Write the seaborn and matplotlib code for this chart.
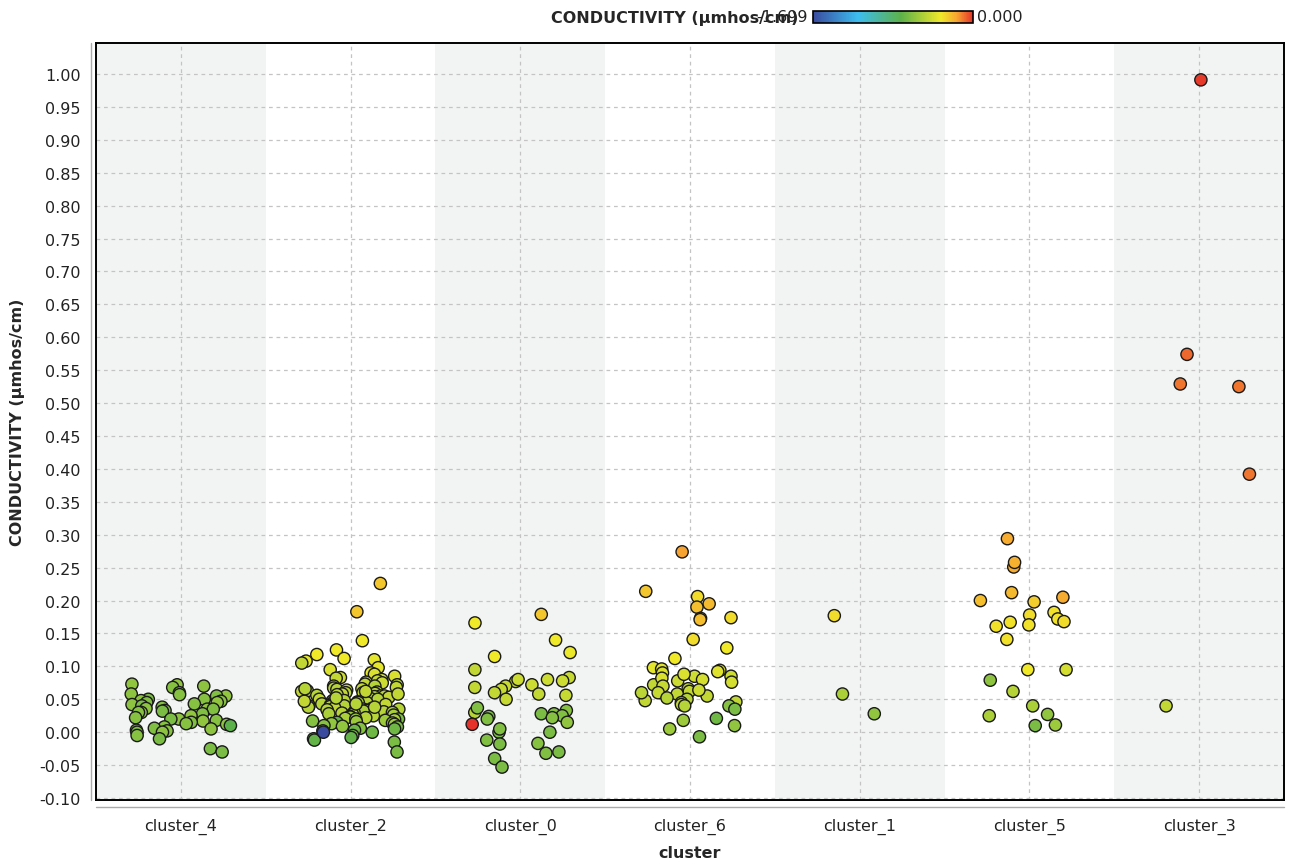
import numpy as np
import pandas as pd
import seaborn as sns
import matplotlib
matplotlib.use('Agg')
from matplotlib import pyplot as plt
from matplotlib.colors import LinearSegmentedColormap, Normalize
from matplotlib.colorbar import ColorbarBase

sns.set_style('white')
plt.rcParams['font.family'] = ['DejaVu Sans']

clusters = ['cluster_4', 'cluster_2', 'cluster_0', 'cluster_6',
            'cluster_1', 'cluster_5', 'cluster_3']

# colour scale of the legend bar
COLOR_LOW = -1.699
COLOR_HIGH = 0.0

# y values per cluster, and the position of each point's colour on the bar (0 = blue, 1 = red)
c4_y = [0.050, 0.073, 0.072, 0.070, 0.068, 0.060, 0.058, 0.057, 0.055, 0.055,
        0.050, 0.048, 0.047, 0.045, 0.045, 0.043, 0.042, 0.040, 0.038, 0.036,
        0.035, 0.035, 0.033, 0.032, 0.030, 0.030, 0.028, 0.025, 0.022, 0.020,
        0.020, 0.018, 0.017, 0.015, 0.013, 0.012, 0.010, 0.008, 0.006, 0.005,
        0.003, 0.002, 0.000, 0.000, -0.005, -0.010, -0.025, -0.030]
c4_c = [0.60, 0.64, 0.64, 0.63, 0.62, 0.62, 0.63, 0.62, 0.64, 0.61,
        0.62, 0.63, 0.62, 0.64, 0.61, 0.62, 0.63, 0.60, 0.62, 0.63,
        0.64, 0.61, 0.62, 0.60, 0.63, 0.62, 0.61, 0.64, 0.62, 0.63,
        0.60, 0.62, 0.64, 0.61, 0.62, 0.63, 0.55, 0.62, 0.61, 0.63,
        0.60, 0.62, 0.61, 0.63, 0.62, 0.60, 0.60, 0.60]

c2_y = [0.226, 0.183, 0.139, 0.125, 0.118, 0.112, 0.110, 0.108, 0.105, 0.098,
        0.095, 0.090, 0.088, 0.085, 0.083, 0.082, 0.080, 0.078, 0.076, 0.075,
        0.073, 0.072, 0.070, 0.070, 0.068, 0.067, 0.066, 0.065, 0.064, 0.063,
        0.062, 0.061, 0.060, 0.060, 0.059, 0.058, 0.057, 0.056, 0.055, 0.055,
        0.054, 0.053, 0.052, 0.051, 0.050, 0.050, 0.049, 0.048, 0.047, 0.046,
        0.045, 0.045, 0.044, 0.043, 0.042, 0.041, 0.040, 0.040, 0.039, 0.038,
        0.037, 0.036, 0.035, 0.035, 0.034, 0.033, 0.032, 0.031, 0.030, 0.030,
        0.029, 0.028, 0.027, 0.026, 0.025, 0.024, 0.023, 0.022, 0.021, 0.020,
        0.020, 0.019, 0.018, 0.017, 0.016, 0.015, 0.014, 0.013, 0.012, 0.010,
        0.009, 0.008, 0.006, 0.005, 0.003, 0.002, 0.000, -0.005, -0.008, -0.010,
        -0.012, -0.015, -0.030, 0.058, 0.052, 0.047, 0.043, 0.038, 0.062, 0.066,
        0.000]
c2_c = [0.85, 0.85, 0.80, 0.80, 0.80, 0.80, 0.78, 0.78, 0.72, 0.78,
        0.76, 0.78, 0.76, 0.76, 0.74, 0.72, 0.74, 0.72, 0.72, 0.74,
        0.72, 0.70, 0.72, 0.70, 0.72, 0.70, 0.72, 0.70, 0.72, 0.70,
        0.72, 0.70, 0.70, 0.72, 0.70, 0.72, 0.70, 0.70, 0.72, 0.70,
        0.70, 0.72, 0.70, 0.70, 0.72, 0.70, 0.70, 0.70, 0.72, 0.70,
        0.70, 0.68, 0.70, 0.70, 0.72, 0.70, 0.70, 0.68, 0.70, 0.70,
        0.72, 0.70, 0.70, 0.68, 0.70, 0.70, 0.68, 0.70, 0.70, 0.68,
        0.70, 0.68, 0.70, 0.68, 0.70, 0.68, 0.66, 0.70, 0.68, 0.66,
        0.60, 0.68, 0.66, 0.62, 0.66, 0.56, 0.66, 0.64, 0.66, 0.62,
        0.64, 0.60, 0.62, 0.58, 0.58, 0.60, 0.58, 0.58, 0.56, 0.58,
        0.56, 0.60, 0.60, 0.72, 0.70, 0.72, 0.70, 0.70, 0.72, 0.70,
        0.00]

c0_y = [0.179, 0.166, 0.140, 0.121, 0.115, 0.095, 0.083, 0.080, 0.077, 0.080,
        0.078, 0.070, 0.068, 0.072, 0.065, 0.058, 0.056, 0.050, 0.060, 0.030,
        0.028, 0.037, 0.033, 0.028, 0.025, 0.022, 0.024, 0.020, 0.015, 0.000,
        0.000, -0.012, -0.018, -0.017, -0.040, -0.032, -0.030, -0.053, 0.005,
        0.012]
c0_c = [0.85, 0.80, 0.80, 0.79, 0.80, 0.72, 0.73, 0.74, 0.72, 0.74,
        0.74, 0.73, 0.72, 0.74, 0.73, 0.72, 0.73, 0.73, 0.72, 0.70,
        0.62, 0.61, 0.62, 0.60, 0.61, 0.62, 0.60, 0.61, 0.64, 0.60,
        0.60, 0.61, 0.60, 0.62, 0.60, 0.61, 0.60, 0.60, 0.61,
        1.00]

c6_y = [0.274, 0.214, 0.206, 0.195, 0.190, 0.173, 0.171, 0.174, 0.141, 0.128,
        0.112, 0.098, 0.096, 0.094, 0.090, 0.092, 0.085, 0.085, 0.072, 0.080,
        0.078, 0.076, 0.082, 0.070, 0.066, 0.062, 0.060, 0.058, 0.055, 0.050,
        0.048, 0.045, 0.042, 0.040, 0.060, 0.052, 0.046, 0.040, 0.035, 0.021,
        0.018, 0.010, 0.005, -0.007, 0.064, 0.088]
c6_c = [0.90, 0.85, 0.82, 0.87, 0.86, 0.89, 0.86, 0.82, 0.82, 0.80,
        0.80, 0.78, 0.77, 0.76, 0.76, 0.77, 0.74, 0.74, 0.72, 0.75,
        0.74, 0.75, 0.76, 0.73, 0.72, 0.72, 0.73, 0.72, 0.72, 0.70,
        0.72, 0.70, 0.72, 0.70, 0.71, 0.70, 0.72, 0.62, 0.60, 0.58,
        0.66, 0.64, 0.66, 0.60, 0.74, 0.76]

c1_y = [0.177, 0.058, 0.028]
c1_c = [0.82, 0.68, 0.64]

c5_y = [0.294, 0.251, 0.258, 0.212, 0.205, 0.198, 0.200, 0.182, 0.178, 0.172,
        0.163, 0.167, 0.168, 0.161, 0.141, 0.095, 0.095, 0.079, 0.062, 0.040,
        0.027, 0.025, 0.011, 0.010]
c5_c = [0.89, 0.89, 0.88, 0.87, 0.89, 0.84, 0.86, 0.81, 0.82, 0.81,
        0.81, 0.81, 0.82, 0.81, 0.81, 0.80, 0.75, 0.63, 0.70, 0.68,
        0.64, 0.68, 0.66, 0.60]

c3_y = [0.991, 0.574, 0.529, 0.525, 0.392, 0.040]
c3_c = [0.99, 0.95, 0.94, 0.94, 0.94, 0.72]

ys = [c4_y, c2_y, c0_y, c6_y, c1_y, c5_y, c3_y]
cs = [c4_c, c2_c, c0_c, c6_c, c1_c, c5_c, c3_c]

rows = []
for name, yv, cv in zip(clusters, ys, cs):
    for y, c in zip(yv, cv):
        rows.append({'cluster': name, 'value': y,
                     'color': COLOR_LOW + c * (COLOR_HIGH - COLOR_LOW)})
df = pd.DataFrame(rows)

cmap = LinearSegmentedColormap.from_list('rm', [
    (0.00, '#3a4b9f'),
    (0.28, '#3dbdee'),
    (0.55, '#5db14a'),
    (0.80, '#f0e92a'),
    (0.90, '#f7a531'),
    (1.00, '#e5322b'),
])

fig = plt.figure(figsize=(12.89, 8.62), dpi=100)
ax = fig.add_axes([96 / 1289, 1 - 801 / 862, (1284 - 96) / 1289, (801 - 44) / 862])

for i in range(0, len(clusters), 2):
    ax.axvspan(i - 0.5, i + 0.5, color='#f2f4f4', zorder=0, lw=0)

np.random.seed(11)
sns.stripplot(data=df, x='cluster', y='value', hue='color', order=clusters,
              palette=cmap, hue_norm=(COLOR_LOW, COLOR_HIGH), jitter=0.30,
              size=8.8, linewidth=1.0, edgecolor='#1a1a1a', legend=False,
              ax=ax, zorder=3)

ax.set_xlim(-0.5, len(clusters) - 0.5)
ax.set_ylim(-0.103, 1.047)
ax.set_yticks(np.round(np.arange(-0.10, 1.001, 0.05), 2))
ax.yaxis.set_major_formatter(matplotlib.ticker.FormatStrFormatter('%.2f'))

ax.set_axisbelow(True)
ax.grid(True, color='#c4c4c4', linestyle=(0, (3, 3)), linewidth=0.9)
for s in ax.spines.values():
    s.set_color('black')
    s.set_linewidth(1.4)

ax.tick_params(axis='both', direction='out', length=5, width=1,
               color='#999999', labelsize=11.5, labelcolor='#222222')
ax.tick_params(axis='x', pad=8)
ax.tick_params(axis='y', pad=6)

# grey axis lines just outside the black frame
ax.plot([-0.004, -0.004], [0, 1], transform=ax.transAxes, color='#aaaaaa',
        lw=1, clip_on=False)
ax.plot([0, 1], [-0.009, -0.009], transform=ax.transAxes, color='#aaaaaa',
        lw=1, clip_on=False)

ax.set_xlabel('cluster', fontsize=11.5, fontweight='bold', labelpad=8)
ax.set_ylabel('CONDUCTIVITY (µmhos/cm)', fontsize=11.5, fontweight='bold',
              labelpad=10)

# colour legend at the top
cax = fig.add_axes([813 / 1289, 1 - 24 / 862, 160 / 1289, 12 / 862])
cb = ColorbarBase(cax, cmap=cmap, norm=Normalize(COLOR_LOW, COLOR_HIGH),
                  orientation='horizontal')
cb.set_ticks([])
cb.outline.set_edgecolor('black')
cb.outline.set_linewidth(1.2)
fig.text(808 / 1289, 1 - 18 / 862, '-1.699', ha='right', va='center',
         fontsize=11.5, color='#222222')
fig.text(798 / 1289, 1 - 18 / 862, 'CONDUCTIVITY (µmhos/cm)', ha='right',
         va='center', fontsize=11.5, fontweight='bold')
fig.text(977 / 1289, 1 - 18 / 862, '0.000', ha='left', va='center',
         fontsize=11.5, color='#222222')

fig.savefig('out.png', dpi=100)
